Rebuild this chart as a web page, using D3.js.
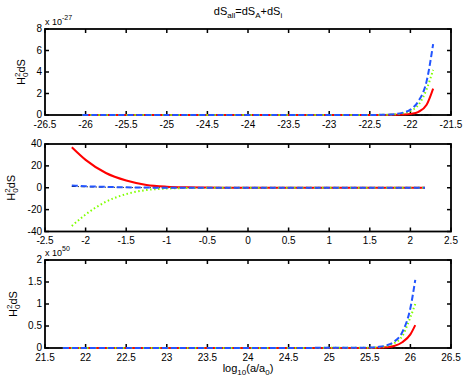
<!DOCTYPE html>
<html lang="en">
<head>
<meta charset="utf-8">
<title>dS panels</title>
<script src="https://d3js.org/d3.v7.min.js"></script>
<style>
  body { margin: 0; background: #fff; }
  svg { font-family: "Liberation Sans", Arial, sans-serif; }
</style>
</head>
<body>
<script>
// ---- data ----
// top panel: values in units of 1e-27
var xTop     = [-26.04, -23.0, -22.5, -22.3, -22.2, -22.1, -22.0, -21.9, -21.8, -21.72];
var blueTop  = [0, 0.0005, 0.005, 0.03, 0.08, 0.2, 0.5, 1.3, 3.15, 6.6];
var greenTop = [0, 0.0004, 0.004, 0.024, 0.06, 0.15, 0.38, 0.95, 2.4, 4.2];
var redTop   = [0, 0.0001, 0.001, 0.004, 0.012, 0.035, 0.1, 0.3, 0.95, 2.45];
var blackTop = [0, 0, 0, 0, 0, 0, 0, 0, 0, 0];

// middle panel
var xMid     = [-2.17, -2.0, -1.75, -1.5, -1.25, -1.0, -0.75, -0.5, 0, 1, 2.18];
var redMid   = [37, 25.5, 13.5, 6.6, 2.6, 1.0, 0.4, 0.15, 0, 0, 0];
var greenMid = [-35, -24.5, -12.8, -5.8, -2.1, -0.7, -0.25, -0.1, 0, 0, 0];
var blueMid  = [2.0, 1.4, 0.8, 0.4, 0.15, 0.05, 0.02, 0, 0, 0, 0];
var blackMid = [1.2, 0.9, 0.5, 0.25, 0.1, 0.03, 0, 0, 0, 0, 0];

// bottom panel: values in units of 1e50
var xBot     = [21.72, 24.0, 25.5, 25.6, 25.7, 25.8, 25.9, 26.0, 26.06];
var blueBot  = [0, 0.0003, 0.009, 0.023, 0.057, 0.144, 0.36, 0.91, 1.55];
var greenBot = [0, 0.0002, 0.007, 0.017, 0.043, 0.11, 0.27, 0.7, 1.0];
var redBot   = [0, 0.0001, 0.002, 0.006, 0.016, 0.045, 0.13, 0.31, 0.52];
var blackBot = [0, 0, 0, 0, 0, 0, 0, 0, 0];

// tick labels
var ticksTopX = d3.range(-26.5, -21.49, 0.5), ticksTopY = [0, 2, 4, 6, 8];
var ticksMidX = d3.range(-2.5, 2.51, 0.5),    ticksMidY = [-40, -20, 0, 20, 40];
var ticksBotX = d3.range(21.5, 26.51, 0.5),   ticksBotY = [0, 0.5, 1, 1.5, 2];

// ---- canvas ----
var width = 463, height = 381,
    left = 45, right = 451;

var svg = d3.select("body").append("svg")
    .attr("width", width)
    .attr("height", height);

var styles = {
  black: {color: "#000", w: 1, dash: "4,2,1,2"},
  red:   {color: "#ff0000", w: 2, dash: null},
  green: {color: "#80ff00", w: 2, dash: "1.5,2.5"},
  blue:  {color: "#2255ff", w: 2, dash: "6,3"}
};

function fmt(v) {
  return (v < 0 ? "-" : "") + d3.format("")(Math.abs(+v.toFixed(2)));
}

function panel(opt) {
  var x = d3.scaleLinear().domain(opt.xdom).range([left, right]);
  var y = d3.scaleLinear().domain(opt.ydom).range([opt.bottom, opt.top]);
  var g = svg.append("g");

  // frame first, series go on top of it
  g.append("rect")
    .attr("x", left).attr("y", opt.top)
    .attr("width", right - left).attr("height", opt.bottom - opt.top)
    .attr("fill", "none").attr("stroke", "#000").attr("stroke-width", 1.8);

  // ticks (inward, all four sides)
  var tl = 4;
  opt.xt.forEach(function(t) {
    g.append("line").attr("x1", x(t)).attr("x2", x(t))
      .attr("y1", opt.bottom).attr("y2", opt.bottom - tl)
      .attr("stroke", "#000").attr("stroke-width", 1.5);
    g.append("line").attr("x1", x(t)).attr("x2", x(t))
      .attr("y1", opt.top).attr("y2", opt.top + tl)
      .attr("stroke", "#000").attr("stroke-width", 1.5);
    g.append("text").attr("x", x(t)).attr("y", opt.bottom + 12.5)
      .attr("text-anchor", "middle").attr("font-size", 10)
      .text(fmt(t));
  });
  opt.yt.forEach(function(t) {
    g.append("line").attr("x1", left).attr("x2", left + tl)
      .attr("y1", y(t)).attr("y2", y(t))
      .attr("stroke", "#000").attr("stroke-width", 1.5);
    g.append("line").attr("x1", right).attr("x2", right - tl)
      .attr("y1", y(t)).attr("y2", y(t))
      .attr("stroke", "#000").attr("stroke-width", 1.5);
    g.append("text").attr("x", left - 3).attr("y", y(t) + 3)
      .attr("text-anchor", "end").attr("font-size", 10)
      .text(fmt(t));
  });

  // series
  var line = d3.line()
    .x(function(d) { return x(d[0]); })
    .y(function(d) { return y(d[1]); })
    .curve(d3.curveMonotoneX);

  opt.series.forEach(function(s) {
    var st = styles[s.name];
    var pts = opt.xs.map(function(v, i) { return [v, s.vals[i]]; });
    g.append("path")
      .attr("d", line(pts))
      .attr("fill", "none")
      .attr("stroke", st.color)
      .attr("stroke-width", st.w)
      .attr("stroke-dasharray", st.dash);
  });

  // y label H_0^2 dS
  var yl = g.append("text")
    .attr("transform", "translate(" + opt.ylx + "," + ((opt.top + opt.bottom) / 2) + ") rotate(-90)")
    .attr("text-anchor", "middle").attr("font-size", 11);
  yl.append("tspan").text("H");
  yl.append("tspan").attr("font-size", 8).attr("dy", 3).text("0");
  yl.append("tspan").attr("font-size", 8).attr("dx", -4.5).attr("dy", -8).text("2");
  yl.append("tspan").attr("dy", 5).text("dS");

  // exponent
  if (opt.exp) {
    var ex = g.append("text").attr("x", left).attr("y", opt.top - 4)
      .attr("font-size", 9);
    ex.append("tspan").text("x 10");
    ex.append("tspan").attr("font-size", 7).attr("dy", -5).text(opt.exp);
  }
}

panel({
  top: 29, bottom: 115, xdom: [-26.5, -21.5], ydom: [0, 8],
  xt: ticksTopX, yt: ticksTopY, ylx: 25, exp: "-27", xs: xTop,
  series: [{name: "black", vals: blackTop}, {name: "red", vals: redTop},
           {name: "green", vals: greenTop}, {name: "blue", vals: blueTop}]
});

panel({
  top: 144, bottom: 231.5, xdom: [-2.5, 2.5], ydom: [-40, 40],
  xt: ticksMidX, yt: ticksMidY, ylx: 15, xs: xMid,
  series: [{name: "black", vals: blackMid}, {name: "red", vals: redMid},
           {name: "green", vals: greenMid}, {name: "blue", vals: blueMid}]
});

panel({
  top: 260, bottom: 348, xdom: [21.5, 26.5], ydom: [0, 2],
  xt: ticksBotX, yt: ticksBotY, ylx: 17, exp: "50", xs: xBot,
  series: [{name: "black", vals: blackBot}, {name: "red", vals: redBot},
           {name: "green", vals: greenBot}, {name: "blue", vals: blueBot}]
});

// title
var title = svg.append("text").attr("x", 248).attr("y", 15)
  .attr("text-anchor", "middle").attr("font-size", 11);
title.append("tspan").text("dS");
title.append("tspan").attr("font-size", 8).attr("dy", 3).text("all");
title.append("tspan").attr("dy", -3).text("=dS");
title.append("tspan").attr("font-size", 8).attr("dy", 3).text("A");
title.append("tspan").attr("dy", -3).text("+dS");
title.append("tspan").attr("font-size", 8).attr("dy", 3).text("i");

// x label
var xl = svg.append("text").attr("x", 248).attr("y", 372)
  .attr("text-anchor", "middle").attr("font-size", 11);
xl.append("tspan").text("log");
xl.append("tspan").attr("font-size", 8).attr("dy", 3).text("10");
xl.append("tspan").attr("dy", -3).text("(a/a");
xl.append("tspan").attr("font-size", 8).attr("dy", 3).text("0");
xl.append("tspan").attr("dy", -3).text(")");
</script>
</body>
</html>
